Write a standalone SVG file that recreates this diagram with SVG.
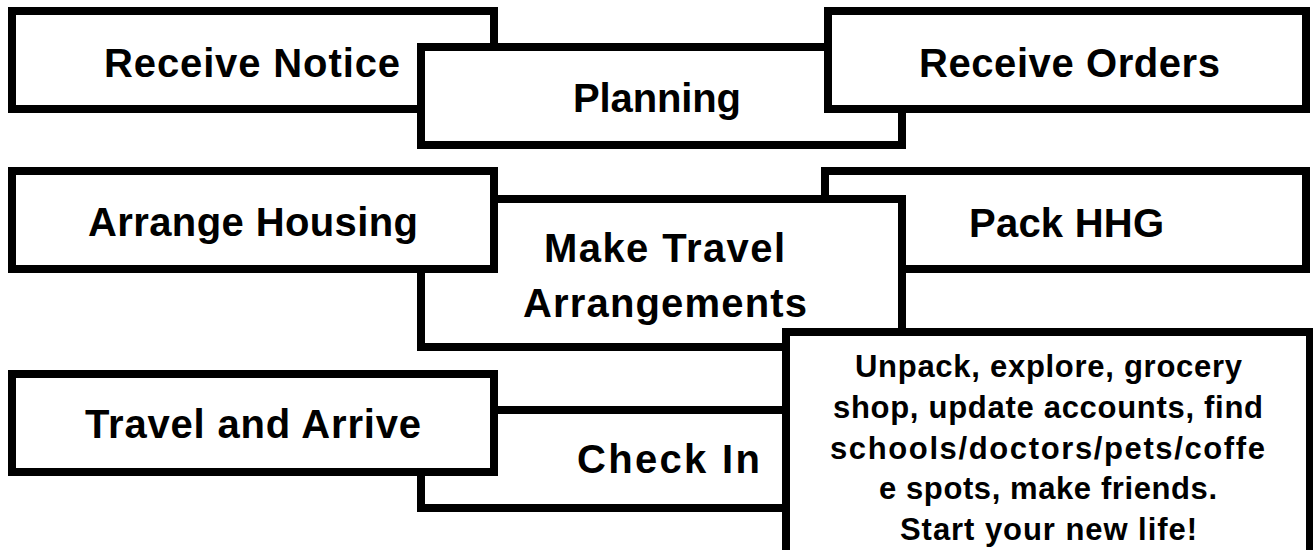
<svg xmlns="http://www.w3.org/2000/svg" width="1313" height="550" viewBox="0 0 1313 550">
  <style>
    .box { fill: #ffffff; stroke: #000000; stroke-width: 8; }
    .lbl { font-family: "Liberation Sans", Arial, sans-serif; font-weight: bold; font-size: 40px; fill: #000000; }
    .big { font-family: "Liberation Sans", Arial, sans-serif; font-weight: bold; font-size: 31px; fill: #000000; }
  </style>
  <rect width="1313" height="550" fill="#ffffff"/>
  <g id="connectors"></g>

  <g id="receive-notice">
    <rect class="box" x="12" y="11" width="482" height="98"/>
    <text class="lbl" x="104" y="77" textLength="296" lengthAdjust="spacing">Receive Notice</text>
  </g>
  <g id="planning">
    <rect class="box" x="421" y="47" width="481" height="98"/>
    <text class="lbl" x="573" y="112" textLength="168" lengthAdjust="spacing">Planning</text>
  </g>
  <g id="receive-orders">
    <rect class="box" x="828" y="11" width="478" height="98"/>
    <text class="lbl" x="919" y="77" textLength="301" lengthAdjust="spacing">Receive Orders</text>
  </g>

  <g id="pack-hhg">
    <rect class="box" x="825" y="171" width="481" height="98"/>
    <text class="lbl" x="969" y="237" textLength="195" lengthAdjust="spacing">Pack HHG</text>
  </g>
  <g id="make-travel">
    <rect class="box" x="421" y="199" width="481" height="148"/>
    <text class="lbl" x="544" y="262" textLength="241" lengthAdjust="spacing">Make Travel</text>
    <text class="lbl" x="523" y="317" textLength="284" lengthAdjust="spacing">Arrangements</text>
  </g>
  <g id="arrange-housing">
    <rect class="box" x="12" y="171" width="482" height="98"/>
    <text class="lbl" x="88" y="236" textLength="330" lengthAdjust="spacing">Arrange Housing</text>
  </g>

  <g id="check-in">
    <rect class="box" x="421" y="410" width="481" height="98"/>
    <text class="lbl" x="577" y="473" textLength="183" lengthAdjust="spacing">Check In</text>
  </g>
  <g id="travel-arrive">
    <rect class="box" x="12" y="374" width="482" height="98"/>
    <text class="lbl" x="85" y="438" textLength="336" lengthAdjust="spacing">Travel and Arrive</text>
  </g>

  <g id="new-life">
    <rect class="box" x="786" y="332" width="524" height="240"/>
    <text class="big" x="855" y="377" textLength="387" lengthAdjust="spacing">Unpack, explore, grocery</text>
    <text class="big" x="833" y="418" textLength="430" lengthAdjust="spacing">shop, update accounts, find</text>
    <text class="big" x="830" y="458.5" textLength="435" lengthAdjust="spacing">schools/doctors/pets/coffe</text>
    <text class="big" x="879" y="499" textLength="338" lengthAdjust="spacing">e spots, make friends.</text>
    <text class="big" x="900" y="540" textLength="297" lengthAdjust="spacing">Start your new life!</text>
  </g>
</svg>
